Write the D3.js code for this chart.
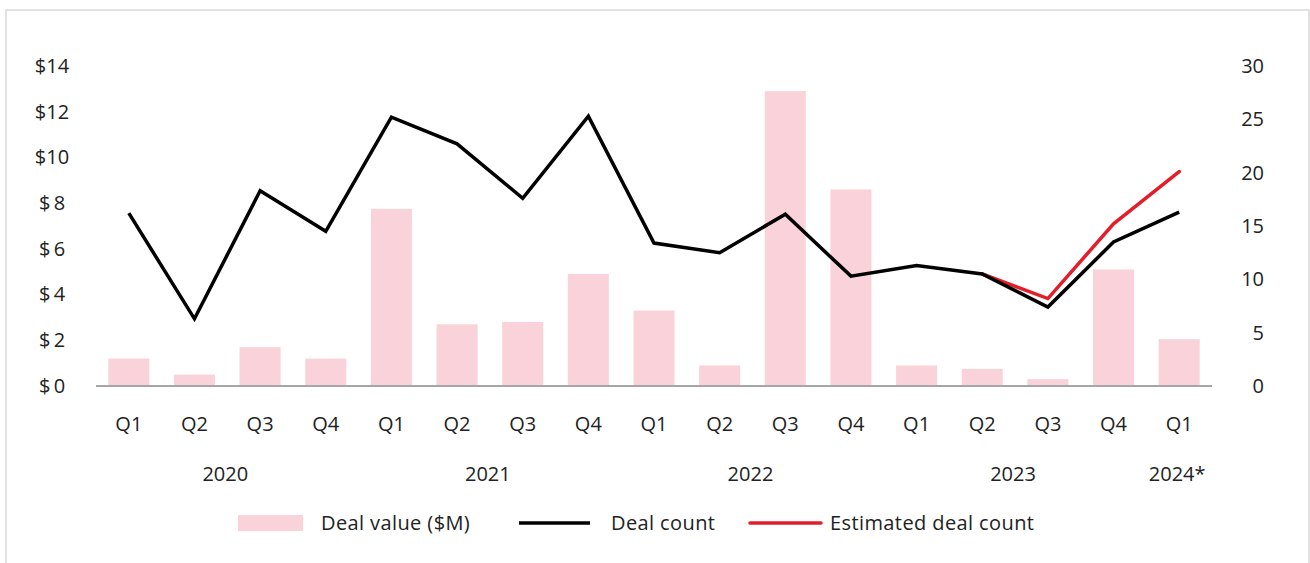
<!DOCTYPE html>
<html>
<head>
<meta charset="utf-8">
<script src="https://cdn.jsdelivr.net/npm/d3@7"></script>
<style>
  body { margin: 0; background: #fff; }
  text { font-family: "Open Sans", "Noto Sans", sans-serif; fill: #222; }
</style>
</head>
<body>
<div id="chart"></div>
<script>
// quarters and years
var quarters = ["Q1","Q2","Q3","Q4","Q1","Q2","Q3","Q4","Q1","Q2","Q3","Q4","Q1","Q2","Q3","Q4","Q1"];
var years = ["2020","2021","2022","2023","2024*"];
var yearSpans = [[0, 3], [4, 7], [8, 11], [12, 15], [16, 16]];

// deal value in $M (bars, left axis)
var dealValue = [1.2, 0.5, 1.7, 1.2, 7.75, 2.7, 2.8, 4.9, 3.3, 0.9, 12.9, 8.6, 0.9, 0.75, 0.3, 5.1, 2.05];
// deal count (black line, right axis)
var dealCount = [16.2, 6.3, 18.3, 14.5, 25.2, 22.7, 17.6, 25.3, 13.4, 12.5, 16.1, 10.3, 11.3, 10.5, 7.4, 13.5, 16.3];
// estimated deal count (red line)
var estCount = [null, null, null, null, null, null, null, null, null, null, null, null, null, 10.5, 8.2, 15.2, 20.1];

var leftTicks = [0, 2, 4, 6, 8, 10, 12, 14];
var rightTicks = [0, 5, 10, 15, 20, 25, 30];

var svgWidth = 1310;
var svgHeight = 563;

var svg = d3.select("#chart")
  .append("svg")
  .attr("width", svgWidth)
  .attr("height", svgHeight);

// light frame
svg.append("rect")
  .attr("x", 6).attr("y", 10)
  .attr("width", 1303).attr("height", 570)
  .attr("fill", "none")
  .attr("stroke", "#d9d9d9")
  .attr("stroke-width", 1.5);

var idx = d3.range(quarters.length);

var xScale = d3.scaleBand()
  .domain(idx)
  .range([96, 1212])
  .padding(0);

var yLeft = d3.scaleLinear().domain([0, 14]).range([386, 66]);
var yRight = d3.scaleLinear().domain([0, 30]).range([386, 66]);

var step = xScale.bandwidth();
var barW = step * 0.625;

// bars
svg.append("g").selectAll("rect")
  .data(dealValue)
  .enter()
  .append("rect")
  .attr("x", (d, i) => xScale(i) + (step - barW) / 2)
  .attr("y", d => yLeft(d))
  .attr("width", barW)
  .attr("height", d => yLeft(0) - yLeft(d))
  .attr("fill", "#f9d3d9");

// baseline
svg.append("line")
  .attr("x1", 96).attr("x2", 1212)
  .attr("y1", yLeft(0)).attr("y2", yLeft(0))
  .attr("stroke", "#a6a6a6")
  .attr("stroke-width", 2);

// lines
var lineGen = d3.line()
  .defined(d => d != null)
  .x((d, i) => xScale(i) + step / 2)
  .y(d => yRight(d));

svg.append("path")
  .attr("d", lineGen(estCount))
  .attr("fill", "none")
  .attr("stroke", "#e31e2b")
  .attr("stroke-width", 3.5)
  .attr("stroke-linecap", "round");

svg.append("path")
  .attr("d", lineGen(dealCount))
  .attr("fill", "none")
  .attr("stroke", "#000")
  .attr("stroke-width", 3.5)
  .attr("stroke-linejoin", "miter");

// left axis
var leftAxis = d3.axisLeft(yLeft)
  .tickValues(leftTicks)
  .tickSize(0)
  .tickFormat(d => d >= 10 ? "$" + d : "$\u2009" + d);

var gl = svg.append("g")
  .attr("transform", "translate(52,0)")
  .call(leftAxis);
gl.select(".domain").remove();
gl.selectAll("text")
  .attr("x", 0)
  .attr("text-anchor", "middle")
  .attr("font-size", "20px");

// right axis
var rightAxis = d3.axisRight(yRight)
  .tickValues(rightTicks)
  .tickSize(0);

var gr = svg.append("g")
  .attr("transform", "translate(1264,0)")
  .call(rightAxis);
gr.select(".domain").remove();
gr.selectAll("text")
  .attr("x", 0)
  .attr("text-anchor", "end")
  .attr("font-size", "20px");

// quarter labels
var xAxis = d3.axisBottom(xScale)
  .tickSize(0)
  .tickFormat(i => quarters[i]);

var gx = svg.append("g")
  .attr("transform", "translate(0,386)")
  .call(xAxis);
gx.select(".domain").remove();
gx.selectAll("text")
  .attr("y", 38)
  .attr("dy", "0.35em")
  .attr("font-size", "20px");

// year labels
svg.append("g").selectAll("text")
  .data(years)
  .enter()
  .append("text")
  .attr("x", (d, i) => (xScale(yearSpans[i][0]) + xScale(yearSpans[i][1]) + step) / 2 - 2)
  .attr("y", 474)
  .attr("dy", "0.35em")
  .attr("text-anchor", "middle")
  .attr("font-size", "20px")
  .text(d => d);

// legend
var legend = svg.append("g")
  .attr("font-size", "20px")
  .attr("letter-spacing", "0.4px");
legend.append("rect")
  .attr("x", 238).attr("y", 515)
  .attr("width", 65).attr("height", 16)
  .attr("fill", "#f9d3d9");
legend.append("text")
  .attr("x", 321).attr("y", 523).attr("dy", "0.35em")
  .text("Deal value ($M)");
legend.append("line")
  .attr("x1", 519).attr("x2", 590)
  .attr("y1", 523).attr("y2", 523)
  .attr("stroke", "#000").attr("stroke-width", 3.5);
legend.append("text")
  .attr("x", 611).attr("y", 523).attr("dy", "0.35em")
  .text("Deal count");
legend.append("line")
  .attr("x1", 750).attr("x2", 821)
  .attr("y1", 523).attr("y2", 523)
  .attr("stroke", "#e31e2b").attr("stroke-width", 3.5)
  .attr("stroke-linecap", "round");
legend.append("text")
  .attr("x", 830).attr("y", 523).attr("dy", "0.35em")
  .text("Estimated deal count");
</script>
</body>
</html>
